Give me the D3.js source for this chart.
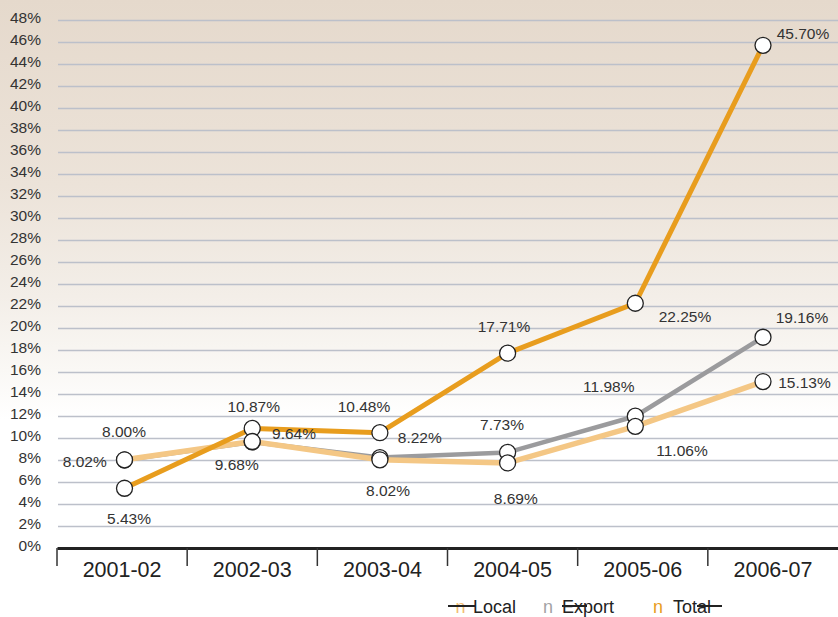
<!DOCTYPE html>
<html>
<head>
<meta charset="utf-8">
<script src="https://cdn.jsdelivr.net/npm/d3@7/dist/d3.min.js"></script>
<style>
  html, body { margin: 0; padding: 0; background: #fff; }
  svg { display: block; font-family: "Liberation Sans", Arial, sans-serif; }
</style>
</head>
<body>
<svg id="chart" width="838" height="617"></svg>
<script>
// Financial years on the x axis
const periods = ["2001-02", "2002-03", "2003-04", "2004-05", "2005-06", "2006-07"];

// Growth rates (%) for each series
const localValues  = [8.02, 9.68, 8.02, 7.73, 11.06, 15.13];
const exportValues = [8.00, 9.64, 8.22, 8.69, 11.98, 19.16];
const totalValues  = [5.43, 10.87, 10.48, 17.71, 22.25, 45.70];

// Y axis ticks (percent)
const yTicks = d3.range(0, 49, 2);

// Legend entries
const legendNames = ["Local", "Export", "Total"];

// ---- layout ----
const W = 838, H = 617;
const plotLeft = 57, plotRight = 838, plotTop = 20, plotBottom = 548;

const svg = d3.select("#chart");

// background wash: warm beige at the top fading to white
const defs = svg.append("defs");
const grad = defs.append("linearGradient")
  .attr("id", "bg").attr("x1", 0).attr("y1", 0).attr("x2", 0).attr("y2", 1);
[[0, "#e5d9cc"], [0.3, "#ece3d9"], [0.48, "#f3eee8"], [0.6, "#faf8f5"], [0.68, "#ffffff"], [1, "#ffffff"]]
  .forEach(([o, c]) => grad.append("stop").attr("offset", o).attr("stop-color", c));
svg.append("rect").attr("width", W).attr("height", H).attr("fill", "url(#bg)");

const y = d3.scaleLinear().domain([0, 48]).range([plotBottom, plotTop]);
const xBand = d3.scaleBand().domain(periods).range([plotLeft, plotRight]);
const xPoint = d3.scalePoint().domain(periods).range([124.5, 763]);

// horizontal gridlines + percent labels
const yAxis = svg.append("g")
  .attr("transform", `translate(${plotLeft + 1},0)`)
  .call(d3.axisLeft(y).tickValues(yTicks).tickFormat(d => d + "%")
        .tickSize(-(plotRight - plotLeft - 1)).tickPadding(17));
yAxis.select(".domain").remove();
yAxis.selectAll(".tick line")
  .attr("stroke", "#bcc0ca").attr("stroke-width", 1.3)
  .attr("opacity", d => d === 0 ? 0 : 1);
yAxis.selectAll(".tick text")
  .attr("fill", "#333").attr("font-size", "15.5px").attr("y", -2.5);

// category axis with heavy baseline
const xAxis = svg.append("g")
  .attr("transform", `translate(0,${plotBottom})`)
  .call(d3.axisBottom(xBand).tickSize(0).tickSizeOuter(0).tickPadding(13.5));
xAxis.select(".domain").attr("stroke", "#222").attr("stroke-width", 3);
xAxis.selectAll(".tick text").attr("fill", "#222").attr("font-size", "21.5px");

// separators between categories
svg.append("g").selectAll("line")
  .data(periods)
  .join("line")
  .attr("x1", d => xBand(d)).attr("x2", d => xBand(d))
  .attr("y1", plotBottom).attr("y2", plotBottom + 18)
  .attr("stroke", "#333").attr("stroke-width", 1.5);

// series definitions
const series = [
  { name: "Export", values: exportValues, color: "#9b9b9d", width: 4.5 },
  { name: "Local",  values: localValues,  color: "#f4c785", width: 5.5 },
  { name: "Total",  values: totalValues,  color: "#e89d1e", width: 5 }
];

const line = d3.line()
  .x((d, i) => xPoint(periods[i]))
  .y(d => y(d));

svg.append("g").selectAll("path")
  .data(series)
  .join("path")
  .attr("d", s => line(s.values))
  .attr("fill", "none")
  .attr("stroke", s => s.color)
  .attr("stroke-width", s => s.width)
  .attr("stroke-linejoin", "round");

// markers: total first, then export, local on top
const markerOrder = [series[2], series[0], series[1]];
markerOrder.forEach(s => {
  svg.append("g").selectAll("circle")
    .data(s.values)
    .join("circle")
    .attr("cx", (d, i) => xPoint(periods[i]))
    .attr("cy", d => y(d))
    .attr("r", 8)
    .attr("fill", "#fff")
    .attr("stroke", "#222")
    .attr("stroke-width", 1.3);
});

// value labels: offsets (dx, dy) from each marker to the label baseline centre
const labelOffsets = {
  Total:  [[4.5, 35.7], [1.5, -16.4], [-15.9, -21], [-3.6, -20.7], [49.7, 18.4], [40, -6]],
  Local:  [[-39.8, 7.7], [-15.5, 28.5], [8.1, 35.9], [-5.6, -33], [46.7, 29.4], [41.5, 6.4]],
  Export: [[-0.5, -23.3], [41.8, -3], [39.9, -14.6], [8.2, 51.1], [-26.5, -24.2], [39, -13.9]]
};

const labelData = [];
series.forEach(s => {
  s.values.forEach((v, i) => {
    const [dx, dy] = labelOffsets[s.name][i];
    labelData.push({
      text: v.toFixed(2) + "%",
      x: xPoint(periods[i]) + dx,
      y: y(v) + dy
    });
  });
});

svg.append("g").selectAll("text")
  .data(labelData)
  .join("text")
  .attr("x", d => d.x)
  .attr("y", d => d.y)
  .attr("text-anchor", "middle")
  .attr("font-size", "15.5px")
  .attr("fill", "#333")
  .text(d => d.text);

// legend
const legendColors = { Local: "#f2bd74", Export: "#a3a3a5", Total: "#e89d1e" };
const legendLayout = [
  { name: "Local",  glyph: 455.5, text: 473, strike: [448, 475] },
  { name: "Export", glyph: 543,   text: 562, strike: [562, 587] },
  { name: "Total",  glyph: 653,   text: 673, strike: [697, 722] }
];
const legendBaseline = 612.5;
const lg = svg.append("g");
legendLayout.forEach(item => {
  lg.append("text")
    .attr("x", item.glyph).attr("y", legendBaseline)
    .attr("font-size", "18px")
    .attr("fill", legendColors[item.name])
    .text("n");
  lg.append("text")
    .attr("x", item.text).attr("y", legendBaseline)
    .attr("font-size", "18px")
    .attr("fill", "#222")
    .text(legendNames[legendNames.indexOf(item.name)]);
  lg.append("line")
    .attr("x1", item.strike[0]).attr("x2", item.strike[1])
    .attr("y1", 606).attr("y2", 606)
    .attr("stroke", "#222").attr("stroke-width", 2);
});
</script>
</body>
</html>
